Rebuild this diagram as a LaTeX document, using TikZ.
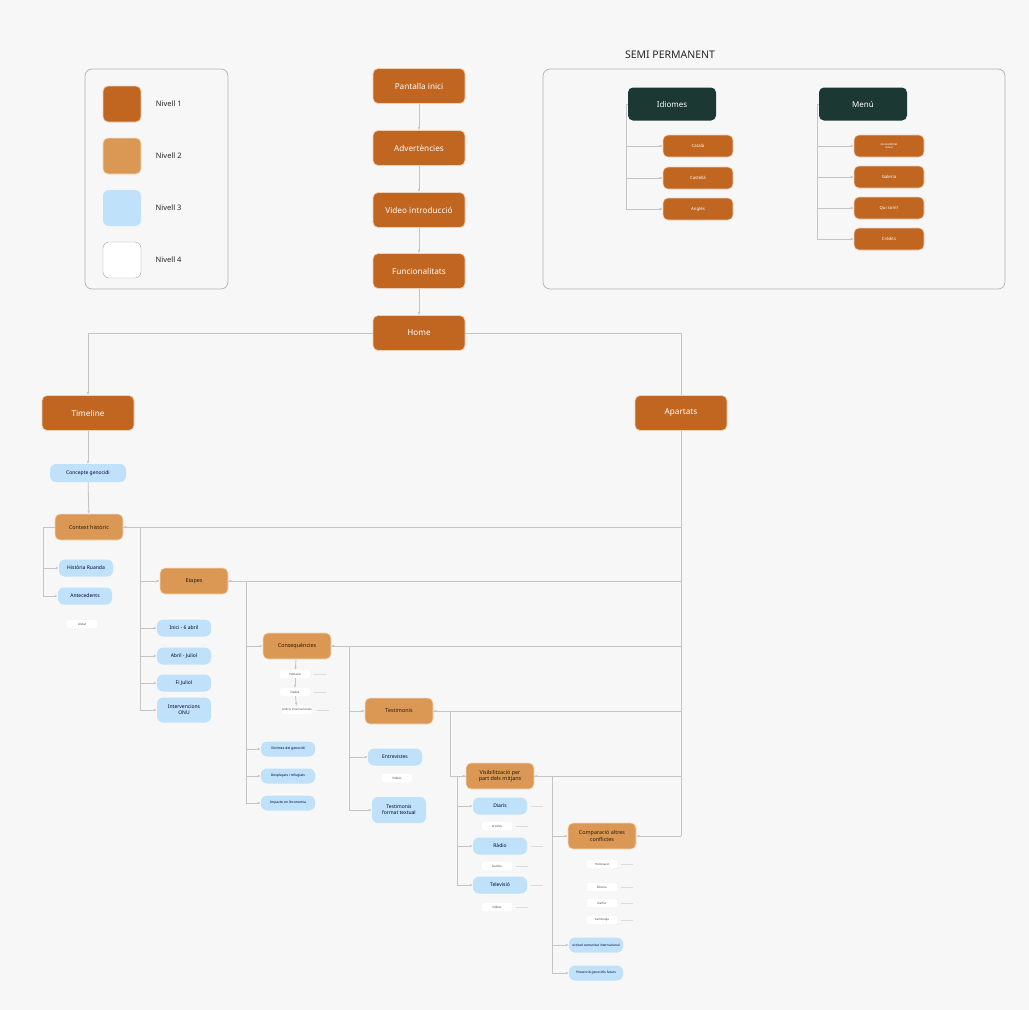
\documentclass[tikz,border=0pt]{standalone}
\usepackage{fontspec}
\setmainfont{Noto Sans}
\usepackage{tikz}
\usetikzlibrary{arrows.meta}
\definecolor{nivA}{RGB}{192,102,33}
\definecolor{nivB}{RGB}{218,152,84}
\definecolor{nivC}{RGB}{191,225,249}
\definecolor{fosc}{RGB}{28,56,50}
\definecolor{linia}{RGB}{196,196,196}
\definecolor{fons}{RGB}{247,247,247}
\tikzset{>={Latex[length=3pt,width=2.6pt]}}
\newcommand{\petit}{\fontsize{3}{3.6}\selectfont}

\begin{document}
\begin{tikzpicture}[x=1pt,y=-1pt,
  n1/.style={rectangle, rounded corners=5pt, fill=nivA, draw=nivA!30, line width=0.8pt,
    text=white, font=\fontsize{8.2}{9.5}\selectfont, minimum width=92pt, minimum height=35pt, inner sep=1pt},
  nfosc/.style={rectangle, rounded corners=5pt, fill=fosc, text=white,
    font=\fontsize{8}{9.5}\selectfont, minimum width=88pt, minimum height=33pt},
  nmenu/.style={rectangle, rounded corners=5pt, fill=nivA, draw=nivA!30, line width=0.6pt,
    text=white, font=\fontsize{4.3}{5}\selectfont, minimum width=70pt, minimum height=22pt, align=center, inner sep=1pt},
  n2/.style={rectangle, rounded corners=5pt, fill=nivB, draw=nivB!35, line width=0.6pt,
    text=black!80!brown, font=\fontsize{5.4}{6.6}\selectfont, minimum width=68pt, minimum height=26pt, align=center, inner sep=1pt},
  n3/.style={rectangle, rounded corners=6pt, fill=nivC, text=blue!25!black,
    font=\fontsize{5}{6}\selectfont, minimum width=54pt, minimum height=17pt, align=center, inner sep=1pt},
  n4/.style={rectangle, rounded corners=2pt, fill=white, text=black!70,
    font=\petit, minimum width=30pt, minimum height=8pt, inner sep=0.5pt},
  frame/.style={draw=gray!60, rounded corners=7pt, line width=0.7pt},
  lin/.style={draw=linia, line width=0.8pt},
  conn/.style={lin, ->},
  tenue/.style={draw=linia!60, line width=0.5pt}]

% background
\fill[fons] (0,0) rectangle (1029,1010);
\useasboundingbox (0,0) rectangle (1029,1010);

% legend
\draw[frame] (85,69) rectangle (228,289);
\node[n1, minimum width=38pt, minimum height=36pt] (llA) at (122,104) {};
\node[n2, minimum width=38pt, minimum height=36pt] (llB) at (122,156) {};
\node[n3, minimum width=38pt, minimum height=36pt] (llC) at (122,208) {};
\node[rectangle, rounded corners=6pt, fill=white, draw=gray!70, minimum width=38pt, minimum height=36pt] (llD) at (122,260) {};
\foreach \n/\t in {A/1,B/2,C/3,D/4}
  \node[font=\fontsize{7.5}{9}\selectfont, text=black!85, anchor=west] (ll\n t) at ([xshift=11pt]ll\n.east) {Nivell \t};

% main chain
\node[n1] (pant) at (419,86) {Pantalla inici};
\node[n1] (adv) at (419,148) {Advertències};
\node[n1] (vid) at (419,210) {Video introducció};
\node[n1] (func) at (419,271) {Funcionalitats};
\node[n1] (home) at (419,333) {Home};
\node[n1] (tl) at (88,413) {Timeline};
\node[n1] (apa) at (681,413) {Apartats};

\draw[conn] (pant) -- (adv);
\draw[conn] (adv) -- (vid);
\draw[conn] (vid) -- (func);
\draw[conn] (func) -- (home);

% semi permanent
\draw[frame] (543,69) rectangle (1005,289);
\node[font=\fontsize{10.5}{12}\selectfont, text=black!85] (semi) at (670,55) {SEMI PERMANENT};
\node[nfosc] (idi) at (672,104) {Idiomes};
\node[nfosc] (menu) at (863,104) {Menú};
\node[nmenu] (cat) at (698,146) {Català};
\node[nmenu] (cast) at (698,178) {Castellà};
\node[nmenu] (ang) at (698,209) {Anglès};
\node[nmenu, font=\fontsize{2.8}{3.3}\selectfont] (acc) at (889,146) {Accessibilitat\\visual};
\node[nmenu] (gal) at (889,177) {Galeria};
\node[nmenu] (qui) at (889,208) {Qui som?};
\node[nmenu] (cred) at (889,239) {Crèdits};

\coordinate (idij) at (626,104);
\coordinate (menuj) at (817,104);
\draw[lin] (idi.west) -- (idij);
\draw[lin] (menu.west) -- (menuj);
\foreach \c in {cat,cast,ang} \draw[conn] (idij) |- (\c.west);
\foreach \c in {acc,gal,qui,cred} \draw[conn] (menuj) |- (\c.west);

% tree nodes
\node[n3, minimum width=76pt, minimum height=18pt] (conc) at (88,473) {Concepte genocidi};
\node[n2] (ctx) at (89,527) {Context històric};
\node[n3] (hist) at (86,568) {Història Ruanda};
\node[n3] (ante) at (85,596) {Antecedents};
\node[n4] (llis) at (82,624) {Llistat};
\node[n2] (eta) at (194,581) {Etapes};
\node[n3] (inici) at (184,628) {Inici - 6 abril};
\node[n3] (abril) at (184,656) {Abril - Juliol};
\node[n3] (fijul) at (184,683) {Fi Juliol};
\node[n3, minimum height=25pt] (onu) at (184,710) {Intervencions\\ONU};
\node[n2] (cons) at (297,646) {Consequències};
\node[n4] (pobl) at (295,674) {Població};
\node[n4] (dades) at (295,692) {Dades};
\node[n4] (judi) at (297,710) {Judicis internacionals};
\node[n3, font=\fontsize{3.4}{4}\selectfont, minimum height=15pt] (vict) at (288,749) {Víctimes del genocidi};
\node[n3, font=\fontsize{3.4}{4}\selectfont, minimum height=15pt] (despl) at (288,776) {Desplaçats i refugiats};
\node[n3, font=\fontsize{3.4}{4}\selectfont, minimum height=15pt] (impa) at (288,803) {Impacte en l'economia};
\node[n2] (test) at (399,711) {Testimonis};
\node[n3] (entr) at (395,757) {Entrevistes};
\node[n4] (vtest) at (397,778) {Vídeos};
\node[n3, minimum height=26pt] (tfor) at (399,810) {Testimonis\\format textual};
\node[n2] (vis) at (500,776) {Visibilització per\\part dels mitjans};
\node[n3] (diar) at (500,806) {Diaris};
\node[n4] (art) at (497,826) {Articles};
\node[n3] (radi) at (500,846) {Ràdio};
\node[n4] (aud) at (497,866) {Àudios};
\node[n3] (tele) at (500,885) {Televisió};
\node[n4] (vvis) at (497,907) {Vídeos};
\node[n2] (comp) at (602,836) {Comparació altres\\conflictes};
\node[n4] (holo) at (602,864) {Holocaust};
\node[n4] (bosn) at (602,887) {Bòsnia};
\node[n4] (darf) at (602,903) {Darfur};
\node[n4] (cambo) at (602,920) {Cambodja};
\node[n3, font=\fontsize{3.2}{4}\selectfont, minimum height=15pt] (actit) at (596,945) {Actitud comunitat internacional};
\node[n3, font=\fontsize{3.2}{4}\selectfont, minimum height=15pt] (prev) at (596,973) {Prevenció genocidis futurs};

% home branches
\draw[conn] (home.west) -| (tl.north);
\draw[lin] (home.east) -| (apa.north);
\coordinate (apaf) at (681,836);
\draw[lin] (apa.south) -- (apaf);
\foreach \n in {ctx,eta,cons,test,vis,comp} \draw[conn] (apaf |- \n.east) -- (\n.east);

% timeline
\draw[conn] (tl) -- (conc);
\draw[conn] (conc) -- (ctx);
\coordinate (ctxj) at (43,527);
\draw[lin] (ctx.west) -- (ctxj);
\foreach \n in {hist,ante} \draw[conn] (ctxj) |- (\n.west);

% etapes
\coordinate (etaj) at (140,527);
\draw[conn] (ctx.east) -- (etaj) |- (eta.west);
\foreach \n in {inici,abril,fijul,onu} \draw[conn] (etaj) |- (\n.west);

% consequencies
\coordinate (consj) at (246,581);
\draw[conn] (eta.east) -- (consj) |- (cons.west);
\foreach \n in {vict,despl,impa} \draw[conn] (consj) |- (\n.west);
\draw[conn] (cons) -- (pobl);
\draw[conn] (pobl) -- (dades);
\draw[conn] (dades) -- (judi);

% testimonis
\coordinate (testj) at (349,646);
\draw[conn] (cons.east) -- (testj) |- (test.west);
\foreach \n in {entr,tfor} \draw[conn] (testj) |- (\n.west);

% mitjans
\coordinate (visj) at (450,711);
\draw[conn] (test.east) -- (visj) |- (vis.west);
\coordinate (visk) at (457,776);
\draw[lin] (vis.west) -- (visk);
\foreach \n in {diar,radi,tele} \draw[conn] (visk) |- (\n.west);

% comparacio
\coordinate (compj) at (552,776);
\draw[conn] (vis.east) -- (compj) |- (comp.west);
\foreach \n in {actit,prev} \draw[conn] (compj) |- (\n.west);

% faint stubs
\foreach \n in {pobl,dades,judi,diar,art,radi,aud,tele,vvis,holo,bosn,darf,cambo}
  \draw[tenue] ([xshift=4pt]\n.east) -- ([xshift=16pt]\n.east);

\end{tikzpicture}
\end{document}
